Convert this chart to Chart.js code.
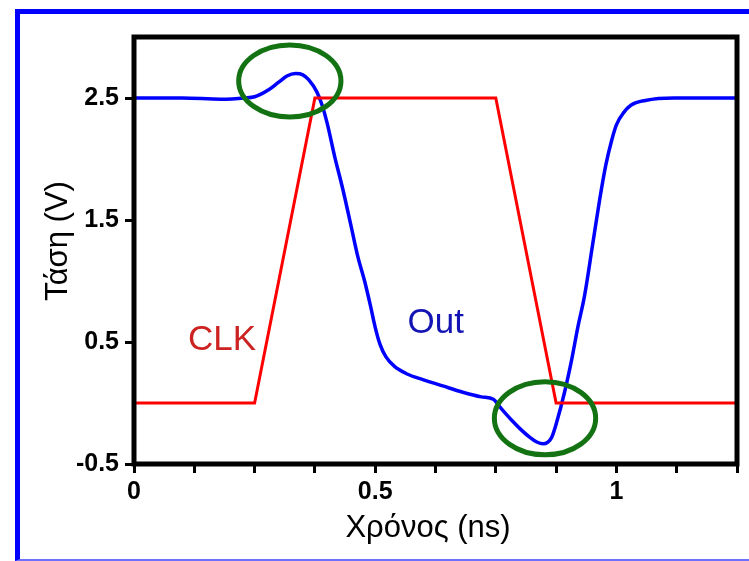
<!DOCTYPE html>
<html>
<head>
<meta charset="utf-8">
<script src="https://cdn.jsdelivr.net/npm/chart.js@4.4.1/dist/chart.umd.min.js"></script>
<style>
  html, body { margin: 0; padding: 0; background: #fff; overflow: hidden; width: 749px; height: 561px; }
  #wrap { position: relative; width: 749px; height: 561px; }
  #c { position: absolute; left: 0; top: 0; }
  #frame {
    position: absolute; left: 15px; top: 9px; width: 760px; height: 545px;
    border-left: 5px solid #0000ff; border-top: 5px solid #0000ff; border-bottom: 2px solid #6e6eff;
    pointer-events: none;
  }
</style>
</head>
<body>
<div id="wrap">
  <canvas id="c" width="749" height="561"></canvas>
  <div id="frame"></div>
</div>
<script>
// Clock input (ns, V)
const clkTime = [0, 0.25, 0.375, 0.75, 0.875, 1.25];
const clkVolt = [0, 0, 2.5, 2.5, 0, 0];

// Gate output (ns, V)
const outTime = [0, 0.10, 0.18, 0.23, 0.25, 0.28, 0.30, 0.317, 0.335, 0.35, 0.362, 0.379, 0.39, 0.40,
                 0.416, 0.433, 0.45, 0.464, 0.478, 0.49, 0.50, 0.51, 0.522, 0.54, 0.565, 0.60, 0.64,
                 0.68, 0.72, 0.745, 0.758, 0.785, 0.80, 0.82, 0.835, 0.848, 0.858, 0.866, 0.876,
                 0.892, 0.907, 0.92, 0.934, 0.95, 0.965, 0.978, 0.99, 1.0, 1.015, 1.03, 1.06, 1.12, 1.25];
const outVolt = [2.5, 2.5, 2.49, 2.5, 2.51, 2.57, 2.63, 2.68, 2.70, 2.69, 2.65, 2.55, 2.44, 2.30,
                 2.02, 1.75, 1.45, 1.20, 1.0, 0.80, 0.62, 0.48, 0.38, 0.30, 0.24, 0.19, 0.14,
                 0.09, 0.05, 0.03, -0.03, -0.15, -0.21, -0.28, -0.32, -0.335, -0.32, -0.28, -0.16,
                 0.08, 0.35, 0.62, 0.88, 1.28, 1.66, 1.95, 2.15, 2.28, 2.38, 2.44, 2.48, 2.50, 2.5];

// Axis ticks
const xTicks = [0, 0.125, 0.25, 0.375, 0.5, 0.625, 0.75, 0.875, 1, 1.125, 1.25];
const xTickLabels = [0, 0.5, 1];
const yTicks = [-0.5, 0.5, 1.5, 2.5];

// Circled regions: centre (t, v) and half-extent (dt, dv)
const hlTime = [0.323, 0.852];
const hlVolt = [2.64, -0.125];
const hlHalfT = [0.106, 0.105];
const hlHalfV = [0.295, 0.30];

const FONT = "'Liberation Sans', Arial, Helvetica, sans-serif";

const decor = {
  id: 'decor',
  afterDatasetsDraw(chart) {
    const { ctx, chartArea: a, scales: { x, y } } = chart;
    ctx.save();

    // plot box
    ctx.strokeStyle = '#000';
    ctx.lineWidth = 5;
    ctx.lineJoin = 'miter';
    ctx.strokeRect(a.left, a.top, a.right - a.left, a.bottom - a.top);

    // circled regions
    ctx.strokeStyle = '#137313';
    ctx.lineWidth = 5;
    hlTime.forEach((t, i) => {
      const cx = x.getPixelForValue(t);
      const cy = y.getPixelForValue(hlVolt[i]);
      const rx = Math.abs(x.getPixelForValue(t + hlHalfT[i]) - cx);
      const ry = Math.abs(y.getPixelForValue(hlVolt[i] + hlHalfV[i]) - cy);
      ctx.beginPath();
      ctx.ellipse(cx, cy, rx, ry, 0, 0, Math.PI * 2);
      ctx.stroke();
    });

    // trace names
    ctx.font = '35px ' + FONT;
    ctx.textAlign = 'left';
    ctx.textBaseline = 'alphabetic';
    ctx.fillStyle = '#cc2222';
    ctx.fillText('CLK', x.getPixelForValue(0.112), y.getPixelForValue(0.434));
    ctx.fillStyle = '#1414b4';
    ctx.fillText('Out', x.getPixelForValue(0.567), y.getPixelForValue(0.574));

    // axis titles
    ctx.fillStyle = '#000';
    ctx.font = '31px ' + FONT;
    ctx.textAlign = 'center';
    ctx.fillText('Χρόνος (ns)', 428, 537);
    ctx.translate(67, 241);
    ctx.rotate(-Math.PI / 2);
    ctx.fillText('Τάση (V)', 0, 0);

    ctx.restore();
  }
};

const tickFont = { family: FONT, size: 25, weight: 'bold' };

new Chart(document.getElementById('c'), {
  type: 'line',
  data: {
    datasets: [
      {
        label: 'CLK',
        data: clkTime.map((t, i) => ({ x: t, y: clkVolt[i] })),
        borderColor: '#ff0000',
        borderWidth: 3,
        pointRadius: 0,
        tension: 0,
        fill: false
      },
      {
        label: 'Out',
        data: outTime.map((t, i) => ({ x: t, y: outVolt[i] })),
        borderColor: '#0000ff',
        borderWidth: 3.5,
        pointRadius: 0,
        cubicInterpolationMode: 'monotone',
        fill: false
      }
    ]
  },
  options: {
    responsive: false,
    animation: false,
    devicePixelRatio: 1,
    layout: { padding: { left: 0, top: 37, right: 12, bottom: 0 } },
    plugins: { legend: { display: false }, tooltip: { enabled: false } },
    scales: {
      x: {
        type: 'linear',
        min: 0,
        max: 1.25,
        afterBuildTicks: s => { s.ticks = xTicks.map(v => ({ value: v })); },
        afterFit: s => { s.height = 97; },
        grid: { drawOnChartArea: false, drawTicks: true, tickLength: 9, tickWidth: 3, tickColor: '#000' },
        border: { display: false },
        ticks: {
          autoSkip: false, maxRotation: 0, minRotation: 0, padding: 4, color: '#000', font: tickFont,
          callback: v => (xTickLabels.includes(v) ? String(v) : '')
        }
      },
      y: {
        type: 'linear',
        min: -0.5,
        max: 3.0,
        afterBuildTicks: s => { s.ticks = yTicks.map(v => ({ value: v })); },
        afterFit: s => { s.width = 134; },
        grid: { drawOnChartArea: false, drawTicks: true, tickLength: 9, tickWidth: 3, tickColor: '#000' },
        border: { display: false },
        ticks: {
          autoSkip: false, padding: 6, color: '#000', font: tickFont,
          callback: v => String(v)
        }
      }
    }
  },
  plugins: [decor]
});
</script>
</body>
</html>
